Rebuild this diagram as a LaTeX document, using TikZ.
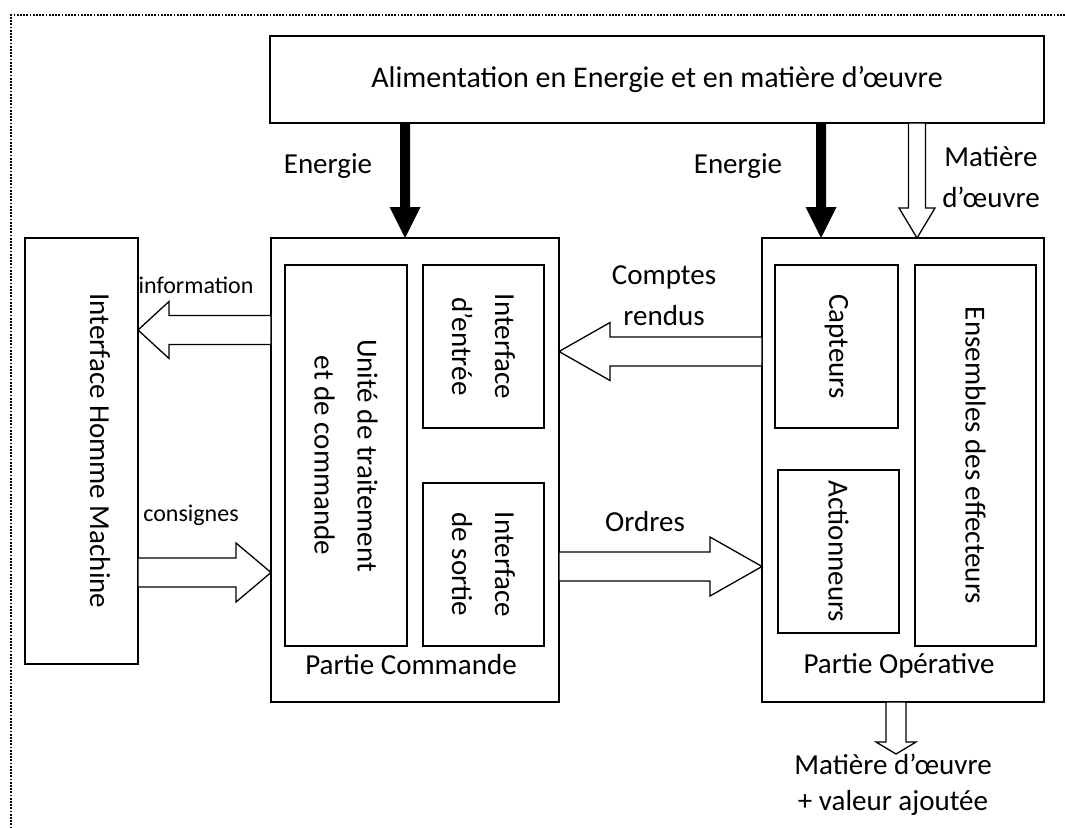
\documentclass[tikz,border=0pt]{standalone}
\usepackage{fontspec}
\setmainfont{Carlito}
\usetikzlibrary{calc}

% horizontal block arrow: style, tail, tip, shaft half-width, head half-width, signed head length
\newcommand{\hblockarrow}[6]{%
  \path[#1] ($(#2)+(0,-#4)$) -- ($(#3)+(#6,-#4)$) -- ($(#3)+(#6,-#5)$) -- (#3)
    -- ($(#3)+(#6,#5)$) -- ($(#3)+(#6,#4)$) -- ($(#2)+(0,#4)$) -- cycle;}
% vertical block arrow: style, tail, tip, shaft half-width, head half-width, signed head length
\newcommand{\vblockarrow}[6]{%
  \path[#1] ($(#2)+(-#4,0)$) -- ($(#3)+(-#4,#6)$) -- ($(#3)+(-#5,#6)$) -- (#3)
    -- ($(#3)+(#5,#6)$) -- ($(#3)+(#4,#6)$) -- ($(#2)+(#4,0)$) -- cycle;}

\begin{document}
\begin{tikzpicture}[x=1pt,y=-1pt,
  box/.style={draw, line width=1.6pt, rectangle, inner sep=0pt, outer sep=0pt},
  txt/.style={inner sep=0pt, align=center, font=\fontsize{29}{40}\selectfont},
  vtxt/.style={inner sep=0pt, align=center, rotate=-90, font=\fontsize{29}{43}\selectfont},
  smalltxt/.style={inner sep=0pt, font=\fontsize{24}{30}\selectfont},
  hollowarrow/.style={draw=black, fill=white, line width=1.3pt, line join=miter},
  filledarrow/.style={fill=black},
  frameline/.style={line width=1.8pt, dash pattern=on 1.8pt off 1.4pt}]

\useasboundingbox (0,0) rectangle (1065,827);

% dotted page frame
\coordinate (fTR) at (1065,15);
\coordinate (fTL) at (11,15);
\coordinate (fBL) at (11,827);
\draw[frameline] (fTR) -- (fTL) -- (fBL);

% supply block
\node[box, minimum width=774pt, minimum height=87pt, font=\fontsize{30}{40}\selectfont]
  (alim) at (657,79.5) {Alimentation en Energie et en matière d’œuvre};

% human-machine interface
\node[box, minimum width=113pt, minimum height=426pt] (ihm) at (81.5,451) {};
\node[vtxt] (ihmtext) at (100,451) {Interface Homme Machine};

% control part
\node[box, minimum width=288pt, minimum height=464pt] (cmd) at (415,470) {};
\node[box, minimum width=122pt, minimum height=381pt] (utc) at (346,455.5) {};
\node[vtxt] (utctext) at (utc) {Unité de traitement\\et de commande};
\node[box, minimum width=121pt, minimum height=163pt] (ie) at (483.5,346.5) {};
\node[vtxt] (ietext) at (ie) {Interface\\d’entrée};
\node[box, minimum width=121pt, minimum height=163pt] (is) at (483.5,564.5) {};
\node[vtxt] (istext) at (is) {Interface\\de sortie};
\node[txt] (pc) at (411,665) {Partie Commande};

% operative part
\node[box, minimum width=282pt, minimum height=464pt] (op) at (903,470) {};
\node[box, minimum width=123pt, minimum height=163pt] (capt) at (836.5,346.5) {};
\node[vtxt] (capttext) at (capt) {Capteurs};
\node[box, minimum width=121pt, minimum height=163pt] (act) at (838.5,551.5) {};
\node[vtxt] (acttext) at (act) {Actionneurs};
\node[box, minimum width=121pt, minimum height=381pt] (ens) at (975.5,455.5) {};
\node[vtxt] (enstext) at (ens) {Ensembles des effecteurs};
\node[txt] (po) at (899,666) {Partie Opérative};

% arrow axes
\coordinate (xe1) at (405,0);
\coordinate (xe2) at (821,0);
\coordinate (xm) at (917,0);
\coordinate (xout) at (896,0);
\coordinate (yinfo) at (0,330);
\coordinate (ycons) at (0,572.5);
\coordinate (ycr) at (0,351.5);
\coordinate (yord) at (0,566.5);

% energy and material feeds
\coordinate (e1a) at (alim.south -| xe1);
\coordinate (e1b) at (cmd.north -| xe1);
\vblockarrow{filledarrow}{e1a}{e1b}{5}{15.5}{-31}
\coordinate (e2a) at (alim.south -| xe2);
\coordinate (e2b) at (op.north -| xe2);
\vblockarrow{filledarrow}{e2a}{e2b}{5}{15.5}{-31}
\coordinate (ma) at (alim.south -| xm);
\coordinate (mb) at (op.north -| xm);
\vblockarrow{hollowarrow}{ma}{mb}{8.5}{18}{-30}

\node[txt] (lblE1) at (328,166) {Energie};
\node[txt] (lblE2) at (738,166) {Energie};
\node[txt, font=\fontsize{29}{41}\selectfont] (lblM) at (991,177) {Matière\\d’œuvre};

% information / consignes
\coordinate (infoa) at (cmd.west |- yinfo);
\coordinate (infob) at (ihm.east |- yinfo);
\hblockarrow{hollowarrow}{infoa}{infob}{14.5}{28.5}{31}
\node[smalltxt] (lblinfo) at (196,285) {information};

\coordinate (consa) at (ihm.east |- ycons);
\coordinate (consb) at (cmd.west |- ycons);
\hblockarrow{hollowarrow}{consa}{consb}{14.5}{29.5}{-35}
\node[smalltxt] (lblcons) at (191,515) {consignes};

% comptes rendus / ordres
\coordinate (cra) at (op.west |- ycr);
\coordinate (crb) at (cmd.east |- ycr);
\hblockarrow{hollowarrow}{cra}{crb}{14.5}{29}{51}
\node[txt, font=\fontsize{29}{41}\selectfont] (lblcr) at (664,296) {Comptes\\rendus};

\coordinate (orda) at (cmd.east |- yord);
\coordinate (ordb) at (op.west |- yord);
\hblockarrow{hollowarrow}{orda}{ordb}{14.5}{29.5}{-52}
\node[txt] (lblord) at (645,522) {Ordres};

% product output
\coordinate (outa) at (op.south -| xout);
\coordinate (outb) at (896,754);
\vblockarrow{hollowarrow}{outa}{outb}{10}{20}{-12}
\node[txt, font=\fontsize{29}{36}\selectfont] (lblout) at (893,785) {Matière d’œuvre\\+ valeur ajoutée};

\end{tikzpicture}
\end{document}
